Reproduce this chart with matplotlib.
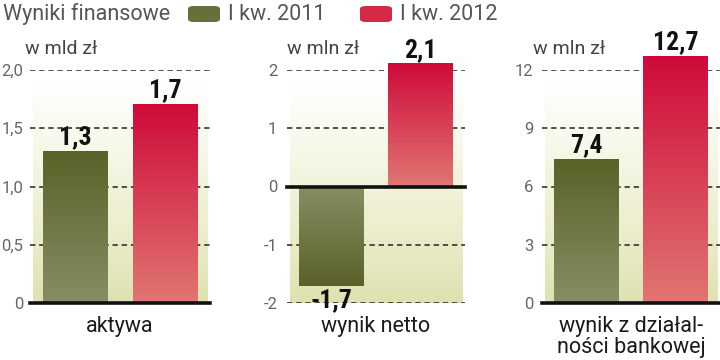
import numpy as np
import matplotlib
matplotlib.use("Agg")
import matplotlib.pyplot as plt
from matplotlib.colors import LinearSegmentedColormap
from matplotlib.patches import FancyBboxPatch

# ---- data ----
categories = ["aktywa", "wynik netto", "wynik z działal-\nności bankowej"]
units = ["w mld zł", "w mln zł", "w mln zł"]
series_names = ["I kw. 2011", "I kw. 2012"]
values_2011 = [1.3, -1.7, 7.4]
values_2012 = [1.7, 2.1, 12.7]
yticks = [[0, 0.5, 1.0, 1.5, 2.0], [-2, -1, 0, 1, 2], [0, 3, 6, 9, 12]]
ytick_labels = [["0", "0,5", "1,0", "1,5", "2,0"],
                ["-2", "-1", "0", "1", "2"],
                ["0", "3", "6", "9", "12"]]
ylims = [(0, 2.0), (-2, 2), (0, 12)]
title = "Wyniki finansowe"

W, H = 720, 360
fig = plt.figure(figsize=(W / 100, H / 100), dpi=100)
fig.patch.set_facecolor("white")

LIGHT = ["Roboto", "DejaVu Sans"]
VALF = ["Liberation Sans Narrow", "Roboto Condensed", "Roboto", "DejaVu Sans"]

green_cmap = LinearSegmentedColormap.from_list("g", ["#878e64", "#5a6229"])
red_cmap = LinearSegmentedColormap.from_list("r", ["#e07672", "#cf0a3a"])
bg_cmap = LinearSegmentedColormap.from_list("bg", ["#dde1ae", "#eef0d2", "#ffffff"])

axes_px = [(30, 210), (287, 465), (542, 720)]
pads = [5, 7, 6]
top_px, bot_px = 70, 303

grad = np.linspace(0, 1, 256).reshape(-1, 1)

for i in range(3):
    l, r = axes_px[i]
    ax = fig.add_axes([l / W, (H - bot_px) / H, (r - l) / W, (bot_px - top_px) / H])
    ax.set_facecolor("none")
    for s in ax.spines.values():
        s.set_visible(False)
    ymin, ymax = ylims[i]
    # background gradient
    bgtop = ymin + (ymax - ymin) * (bot_px - 82) / (bot_px - top_px)
    ax.imshow(grad ** 0.8, cmap=bg_cmap, origin="lower", aspect="auto",
              extent=[-0.47, 1.47, ymin, bgtop], zorder=0, interpolation="bilinear")
    # gridlines
    for t in yticks[i]:
        if t != 0:
            ax.axhline(t, color="#222222", lw=1.1, ls=(0, (3.5, 2.5)), zorder=1)
    # bars
    x = np.array([0, 1])
    bars = ax.bar(x, [values_2011[i], values_2012[i]], width=0.72,
                  color="none", edgecolor="none", zorder=2)
    for b, cm in zip(bars, [green_cmap, red_cmap]):
        x0, w = b.get_x(), b.get_width()
        y0, h = b.get_y(), b.get_height()
        lo, hi = min(y0, y0 + h), max(y0, y0 + h)
        g = grad if h >= 0 else grad[::-1]
        im = ax.imshow(g, cmap=cm, origin="lower", aspect="auto",
                       extent=[x0, x0 + w, lo, hi], zorder=2,
                       interpolation="bilinear")
        im.set_clip_on(False)
    # zero line
    ax.axhline(0, color="#111111", lw=2.6, zorder=3, clip_on=False)
    # value labels
    for xv, v in zip(x, [values_2011[i], values_2012[i]]):
        txt = ("%.1f" % v).replace(".", ",")
        off = (ymax - ymin) * 0.01
        if v >= 0:
            ax.text(xv, v + off, txt, ha="center", va="bottom", fontsize=18.5,
                    fontweight="bold", family=VALF, color="#111111", zorder=5)
        else:
            ax.text(xv, v - off * 1.2, txt, ha="center", va="top", fontsize=18.5,
                    fontweight="bold", family=VALF, color="#111111", zorder=5)
    ax.set_xlim(-0.5, 1.5)
    ax.set_ylim(ymin, ymax)
    ax.set_xticks([])
    ax.set_yticks(yticks[i])
    ax.set_yticklabels(ytick_labels[i], family=LIGHT, fontweight="normal",
                       fontsize=12, color="#666666")
    ax.tick_params(axis="y", length=0, pad=pads[i])
    # category label
    ax.text(0.5, -0.055, categories[i], transform=ax.transAxes, ha="center",
            va="top", fontsize=15.5, family=LIGHT, color="#1a1a1a",
            linespacing=1.0)
    # unit label
    fig.text([25, 287, 533][i] / W, 1 - 49 / H, units[i], ha="left",
             va="center", fontsize=14, family=LIGHT, fontweight="normal",
             color="#444444")

# title & legend
fig.text(3 / W, 1 - 14 / H, title, ha="left", va="center", fontsize=15.5,
         family=LIGHT, fontweight="normal", color="#555555")
leg_px = [(188, 228, "#66703c"), (360, 400, "#d42a47")]
for (px, tx, c), name in zip(leg_px, series_names):
    p = FancyBboxPatch((px / W, 1 - 22 / H), 32 / W, 16 / H,
                       boxstyle="round,pad=0,rounding_size=0.008",
                       transform=fig.transFigure, facecolor=c, edgecolor="none")
    fig.patches.append(p)
    fig.text(tx / W, 1 - 14 / H, name, ha="left", va="center", fontsize=15.5,
             family=LIGHT, fontweight="normal", color="#555555")

fig.savefig("out.png", dpi=100, facecolor="white")
